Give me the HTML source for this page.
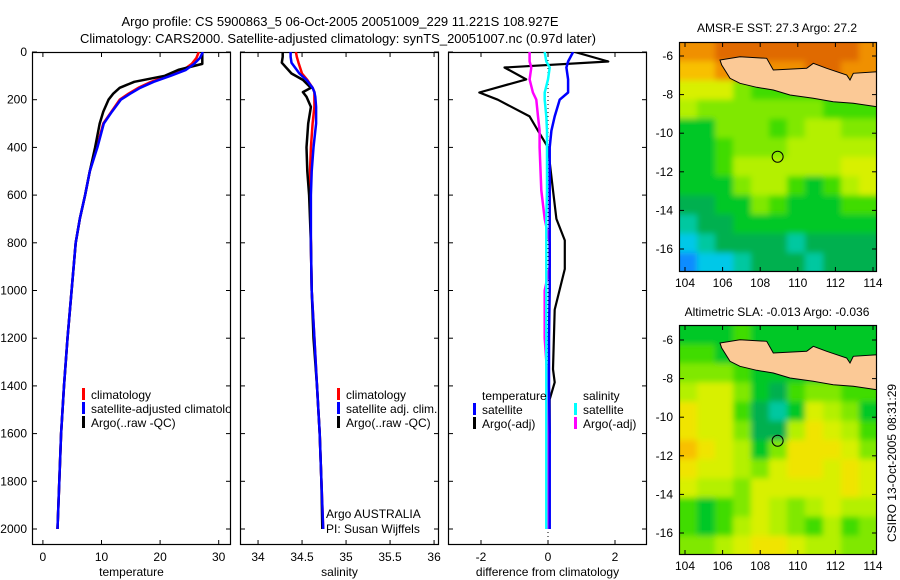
<!DOCTYPE html>
<html><head><meta charset="utf-8">
<style>
html,body{margin:0;padding:0;background:#fff;}
svg{display:block;font-family:"Liberation Sans",sans-serif;}
text{font-size:12px;fill:#000;}
</style></head>
<body>
<svg id="fig" width="900" height="580" viewBox="0 0 900 580" xmlns="http://www.w3.org/2000/svg">
<defs>
<clipPath id="cp1"><rect x="32" y="52" width="199" height="493"/></clipPath>
<clipPath id="cp2"><rect x="240" y="52" width="199" height="493"/></clipPath>
<clipPath id="cp3"><rect x="448" y="52" width="199" height="493"/></clipPath>
<clipPath id="cpm1"><rect x="679" y="42" width="198" height="230"/></clipPath>
<clipPath id="cpm2"><rect x="679" y="325" width="198" height="230"/></clipPath>
<filter id="blur" x="-5%" y="-5%" width="110%" height="110%"><feGaussianBlur stdDeviation="3"/></filter>
</defs>
<text x="340" y="26" text-anchor="middle" style="font-size:13px">Argo profile: CS 5900863_5 06-Oct-2005 20051009_229 11.221S 108.927E</text>
<text x="338" y="43" text-anchor="middle" style="font-size:13px">Climatology: CARS2000. Satellite-adjusted climatology: synTS_20051007.nc (0.97d later)</text>
<text x="777" y="32" text-anchor="middle">AMSR-E SST: 27.3 Argo: 27.2</text>
<text x="777" y="316" text-anchor="middle">Altimetric SLA: -0.013 Argo: -0.036</text>
<text transform="translate(896,463) rotate(-90)" text-anchor="middle">CSIRO 13-Oct-2005 08:31:29</text>
</svg>
<script>
// ---------- data ----------
const depthT = [0,25,50,75,100,125,150,175,200,250,300,400,500,600,700,800,1000,1200,1400,1600,1800,2000];
const tClim = [26.6,26.2,25.4,24.0,21.4,18.5,16.3,14.6,13.1,11.7,10.3,9.2,8.0,7.2,6.3,5.6,4.9,4.2,3.6,3.1,2.8,2.5];
const tSat  = [27.3,26.8,25.8,24.4,21.8,18.9,16.6,14.9,13.3,11.8,10.4,9.3,8.0,7.2,6.3,5.6,4.9,4.2,3.6,3.1,2.8,2.5];
const tArgo = [27.2,27.2,27.2,23.1,20.8,15.6,13.1,12.0,11.2,10.3,9.7,8.9,8.0,7.2,6.3,5.6,4.9,4.2,3.6,3.1,2.8,2.5];

const depthS = [0,20,45,90,117,150,168,188,230,300,400,500,600,800,1000,1200,1400,1600,1800,2000];
const sClim = [34.43,34.44,34.46,34.5,34.56,34.62,34.64,34.64,34.64,34.62,34.6,34.59,34.59,34.6,34.61,34.64,34.67,34.7,34.72,34.74];
const sSat  = [34.37,34.37,34.38,34.47,34.55,34.62,34.64,34.65,34.66,34.66,34.63,34.61,34.6,34.6,34.61,34.64,34.67,34.7,34.72,34.74];
const sArgo = [34.28,34.28,34.27,34.38,34.51,34.6,34.51,34.55,34.6,34.57,34.55,34.56,34.58,34.6,34.61,34.63,34.67,34.7,34.72,34.73];

const depthDA = [0,40,65,115,170,200,270,330,400,580,700,790,910,1080,1330,1385,1456,1600];
const dArgoT = [0.8,1.8,-1.3,-0.65,-2.05,-1.5,-0.55,-0.3,0,0.15,0.25,0.5,0.5,0.2,0.15,0.2,0.05,0.05];
const depthD = [0,40,65,115,170,200,270,330,400,580,700,800,900,1000,1200,1400,1600,1800,2000];
const dSatT  = [0.75,0.6,0.55,0.6,0.6,0.35,0.2,0.1,0.05,0.05,0.05,0.05,0.05,0.05,0.03,0.03,0.05,0.05,0.05];
const dSatS  = [-0.1,-0.05,0.05,0,-0.1,-0.1,-0.05,-0.03,-0.03,-0.03,-0.05,-0.05,-0.05,-0.05,-0.05,-0.05,-0.05,-0.05,-0.05];
const dArgoS = [-0.55,-0.55,-0.5,-0.55,-0.45,-0.35,-0.3,-0.25,-0.25,-0.2,-0.1,0.05,0.05,-0.1,-0.1,0,0,0,0];

const depthTicks = [0,200,400,600,800,1000,1200,1400,1600,1800,2000];
const tempTicks = [0,10,20,30];
const salTicks = [34,34.5,35,35.5,36];
const salTickLabels = ["34","34.5","35","35.5","36"];
const diffTicks = [-2,0,2];
const latTicks = [-6,-8,-10,-12,-14,-16];
const lonTicks = [104,106,108,110,112,114];

const sstGrid = [
[11,11,12,12,12,12,12,12,12,12,11],
[10,10,11,12,11,11,11,12,12,11,11],
[8,8,8,6,5,5,5,5,4,4,4],
[7,6,6,6,6,6,6,6,5,5,5],
[4,4,6,6,6,5,6,7,7,6,6],
[4,4,5,6,6,6,7,7,7,7,7],
[4,4,5,7,7,7,7,7,7,8,8],
[4,4,4,6,7,7,5,4,5,7,8],
[3,3,4,4,6,5,4,4,4,5,5],
[2,3,3,4,4,4,4,4,4,4,4],
[1,2,3,3,3,3,2,3,3,3,3],
[0,1,1,2,3,3,3,2,3,3,3]];
const slaGrid = [
[4,4,4,5,4,4,4,4,4,4,4],
[5,5,4,4,4,4,4,4,4,4,4],
[6,6,6,5,4,4,4,4,5,5,5],
[7,8,8,6,4,3,5,6,6,5,5],
[9,8,8,5,3,2,4,8,7,6,4],
[9,8,8,6,3,3,7,9,8,7,5],
[10,9,8,7,4,6,9,9,9,8,6],
[9,8,8,7,6,8,9,9,8,9,8],
[8,7,7,6,8,8,8,8,8,9,8],
[5,4,5,6,8,7,6,7,8,7,7],
[5,4,5,7,8,7,6,5,7,5,6],
[6,6,7,8,9,9,8,7,7,6,6]];
const argoLon = 108.927, argoLat = -11.221;

// ---------- helpers ----------
const NS = "http://www.w3.org/2000/svg";
const svg = document.getElementById('fig');
function mk(tag, attrs, parent){ const e=document.createElementNS(NS,tag); for(const k in attrs) e.setAttribute(k,attrs[k]); (parent||svg).appendChild(e); return e; }
const top0=52, bot=545;
const yD = d => top0 + d*0.2385;
function panel(x0,w,xmin,xmax,clip,name){
  const g = mk('g',{});
  
  
  const sx = v => x0 + (v-xmin)/(xmax-xmin)*w;
  return {g,sx,x0,w,clip};
}
function frame(p, xt, xl, label){
  const r = mk('rect',{x:p.x0+0.5,y:top0+0.5,width:p.w-1,height:bot-top0-1,fill:'none',stroke:'#000','stroke-width':1.2},p.g);
  
  
  depthTicks.forEach(d=>{
    const y=yD(d);
    mk('line',{x1:p.x0,x2:p.x0+5,y1:y,y2:y,stroke:'#000'},p.g);
    mk('line',{x1:p.x0+p.w-5,x2:p.x0+p.w,y1:y,y2:y,stroke:'#000'},p.g);
  });
  xt.forEach((v,i)=>{
    const x=p.sx(v);
    mk('line',{x1:x,x2:x,y1:top0,y2:top0+5,stroke:'#000'},p.g);
    mk('line',{x1:x,x2:x,y1:bot-5,y2:bot,stroke:'#000'},p.g);
    const t=mk('text',{x:x,y:561,'text-anchor':'middle'},p.g); t.textContent=xl[i];
    
    
  });
  const t=mk('text',{x:p.x0+p.w/2,y:576,'text-anchor':'middle'},p.g); t.textContent=label;
  
  
}
function series(p, depths, vals, color, name, sw){
  const pts = vals.map((v,i)=>p.sx(v).toFixed(1)+','+yD(depths[i]).toFixed(1)).join(' ');
  const l = mk('polyline',{points:pts,fill:'none',stroke:color,'stroke-width':sw||2.5,'clip-path':'url(#'+p.clip+')','stroke-linejoin':'round'},p.g);
  
  
}
function legend(p, x, y, color, label, name){
  if(color) mk('rect',{x:x,y:y-9,width:3,height:12,fill:color},p.g);
  const t = mk('text',{x:x+9,y:y+2},p.g); t.textContent=label;
  
  
}

// depth labels
depthTicks.forEach(d=>{
  const t=mk('text',{x:27,y:yD(d)+4,'text-anchor':'end'}); t.textContent=d;
  
  
});

// Panel 1 temperature
const p1 = panel(32,199,-1.86,32.1,'cp1','temperature-panel');
frame(p1,tempTicks,tempTicks.map(String),'temperature');
series(p1,depthT,tClim,'#f00','temp-climatology-line');
series(p1,depthT,tArgo,'#000','temp-argo-line');
series(p1,depthT,tSat,'#00f','temp-satellite-line');
const lg1 = mk('g',{'clip-path':'url(#cp1)'},p1.g);


legend({g:lg1},82,397,'#f00','climatology','legend-climatology');
legend({g:lg1},82,411,'#00f','satellite-adjusted climatology','legend-satellite');
legend({g:lg1},82,425,'#000','Argo(..raw -QC)','legend-argo');

// Panel 2 salinity
const p2 = panel(240,199,33.795,36.056,'cp2','salinity-panel');
frame(p2,salTicks,salTickLabels,'salinity');
series(p2,depthS,sClim,'#f00','sal-climatology-line');
series(p2,depthS,sArgo,'#000','sal-argo-line');
series(p2,depthS,sSat,'#00f','sal-satellite-line');
legend(p2,337,397,'#f00','climatology','legend-climatology');
legend(p2,337,411,'#00f','satellite adj. clim.','legend-satellite');
legend(p2,337,425,'#000','Argo(..raw -QC)','legend-argo');
legend(p2,317,516,null,'Argo AUSTRALIA','float-operator');
legend(p2,317,531,null,'PI: Susan Wijffels','principal-investigator');

// Panel 3 difference
const p3 = panel(448,199,-2.985,2.955,'cp3','difference-panel');
frame(p3,diffTicks,diffTicks.map(String),'difference from climatology');
const zx = p3.sx(0);
mk('line',{x1:zx,x2:zx,y1:top0,y2:bot,stroke:'#000','stroke-dasharray':'1,3'},p3.g);
series(p3,depthDA,dArgoT,'#000','diff-temp-argo-line',2.2);
series(p3,depthD,dArgoS,'#f0f','diff-sal-argo-line',2.5);
series(p3,depthD,dSatT,'#00f','diff-temp-satellite-line',2.5);
series(p3,depthD,dSatS,'#0ff','diff-sal-satellite-line',2.5);
legend(p3,473,398,null,'temperature','legend-temperature-header');
legend(p3,574,398,null,'salinity','legend-salinity-header');
legend(p3,473,412,'#00f','satellite','legend-temp-satellite');
legend(p3,473,426,'#000','Argo(-adj)','legend-temp-argo');
legend(p3,574,412,'#0ff','satellite','legend-sal-satellite');
legend(p3,574,426,'#f0f','Argo(-adj)','legend-sal-argo');

// ---------- maps ----------
const cmap = ['#0a8cff','#00c8e8','#00c8a0','#00b050','#00c828','#40dc00','#80e800','#b4f000','#d8f000','#f0e400','#f8c000','#f09000','#e06a00','#c04000'];
const landPts = [[721.7,65],[730,78.3],[740,83.3],[756.7,87.3],[773.3,90],[790,95],[813.3,98.3],[833.3,101.7],[853.3,103.3],[877,106.7],[877,71.7],[853.3,73.3],[850,80],[846.7,75],[826.7,68.3],[813.3,63.3],[806.7,68.3],[773.3,70],[766.7,58.3],[740,56.7],[720,60]];
function drawMap(grid, top, clip, name, latY0){
  const g = mk('g',{});
  
  
  const gc = mk('g',{'clip-path':'url(#'+clip+')'},g);
  const gb = mk('g',{filter:'url(#blur)'},gc);
  const cw = 198/grid[0].length, ch = 230/grid.length;
  grid.forEach((row,r)=>row.forEach((v,c)=>{
    mk('rect',{x:679+c*cw-(c==0?15:0),y:top+r*ch-(r==0?15:0),width:cw+(c==0?15:0)+(c==row.length-1?15:0)+0.5,height:ch+(r==0?15:0)+(r==grid.length-1?15:0)+0.5,fill:cmap[v]},gb);
  }));
  const land = mk('polygon',{points:landPts.map(p=>p[0]+','+(p[1]-42+top)).join(' '),fill:'#fbc996',stroke:'#000','stroke-width':1},gc);
  
  
  const sx = lon => 685 + (lon-104)*18.8;
  const sy = lat => latY0 + (-6-lat)*19.3;
  const circ = mk('circle',{cx:sx(argoLon),cy:sy(argoLat),r:5.5,fill:'none',stroke:'#000','stroke-width':1},gc);
  
  
  mk('rect',{x:679.5,y:top+0.5,width:197,height:229,fill:'none',stroke:'#000','stroke-width':1.2},g);
  latTicks.forEach(l=>{
    const y=sy(l);
    mk('line',{x1:679,x2:684,y1:y,y2:y,stroke:'#000'},g);
    mk('line',{x1:872,x2:877,y1:y,y2:y,stroke:'#000'},g);
    const t=mk('text',{x:673,y:y+4,'text-anchor':'end'},g); t.textContent=l;
    
    
  });
  lonTicks.forEach(l=>{
    const x=sx(l);
    mk('line',{x1:x,x2:x,y1:top,y2:top+5,stroke:'#000'},g);
    mk('line',{x1:x,x2:x,y1:top+225,y2:top+230,stroke:'#000'},g);
    const t=mk('text',{x:x,y:top+245,'text-anchor':'middle'},g); t.textContent=l;
    
    
  });
}
drawMap(sstGrid,42,'cpm1','sst-map',56);
drawMap(slaGrid,325,'cpm2','sla-map',340);
</script>
</body></html>
